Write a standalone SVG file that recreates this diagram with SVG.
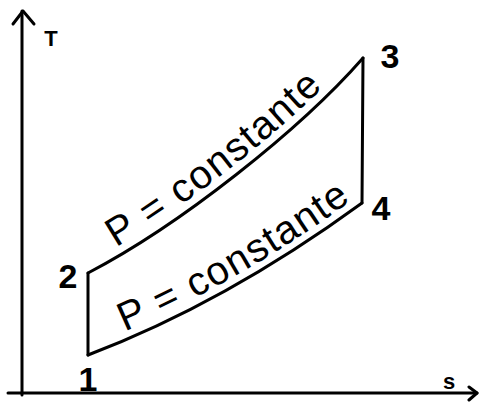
<svg xmlns="http://www.w3.org/2000/svg" width="480" height="402" viewBox="0 0 480 402">
  <style>
    .ln { fill: none; stroke: #000; stroke-width: 3; stroke-linecap: round; stroke-linejoin: round; }
    .ax { fill: none; stroke: #000; stroke-width: 3; stroke-linecap: round; stroke-linejoin: round; }
    .lbl { font-family: "Liberation Sans", Arial, sans-serif; font-weight: bold; fill: #000; text-anchor: middle; }
    .pc { font-family: "Liberation Sans", Arial, sans-serif; font-size: 40px; fill: #000; }
  </style>
  <defs>
    <path id="tp1" d="M83,266 C175,218 295,123 358,51"/>
    <path id="tp2" d="M84,348 Q221,296 358,196"/>
  </defs>
  <rect width="480" height="402" fill="#fff"/>
  <g id="axes">
    <path class="ax" d="M22,395 L22,11"/>
    <path class="ax" d="M13,24 L23,11 L34,24"/>
    <path class="ax" d="M8,393 L477,393"/>
    <path class="ax" d="M469,387 L477,393 L469,400"/>
    <text class="lbl" x="51" y="46" font-size="22">T</text>
    <text class="lbl" x="449" y="389" font-size="22">s</text>
  </g>
  <g id="connectors">
    <path class="ln" d="M88,355 L88,273"/>
    <path class="ln" d="M88,273 C180,225 300,130 363,58"/>
    <path class="ln" d="M363,58 L362,203"/>
    <path class="ln" d="M88,355 Q225,303 362,203"/>
  </g>
  <g id="node-1"><text class="lbl" x="88" y="391" font-size="34">1</text></g>
  <g id="node-2"><text class="lbl" x="68" y="288" font-size="34">2</text></g>
  <g id="node-3"><text class="lbl" x="390" y="68" font-size="34">3</text></g>
  <g id="node-4"><text class="lbl" x="381" y="220" font-size="34">4</text></g>
  <g id="label-upper"><text class="pc"><textPath href="#tp1" startOffset="38" textLength="262">P = constante</textPath></text></g>
  <g id="label-lower"><text class="pc"><textPath href="#tp2" startOffset="44" textLength="262">P = constante</textPath></text></g>
</svg>
